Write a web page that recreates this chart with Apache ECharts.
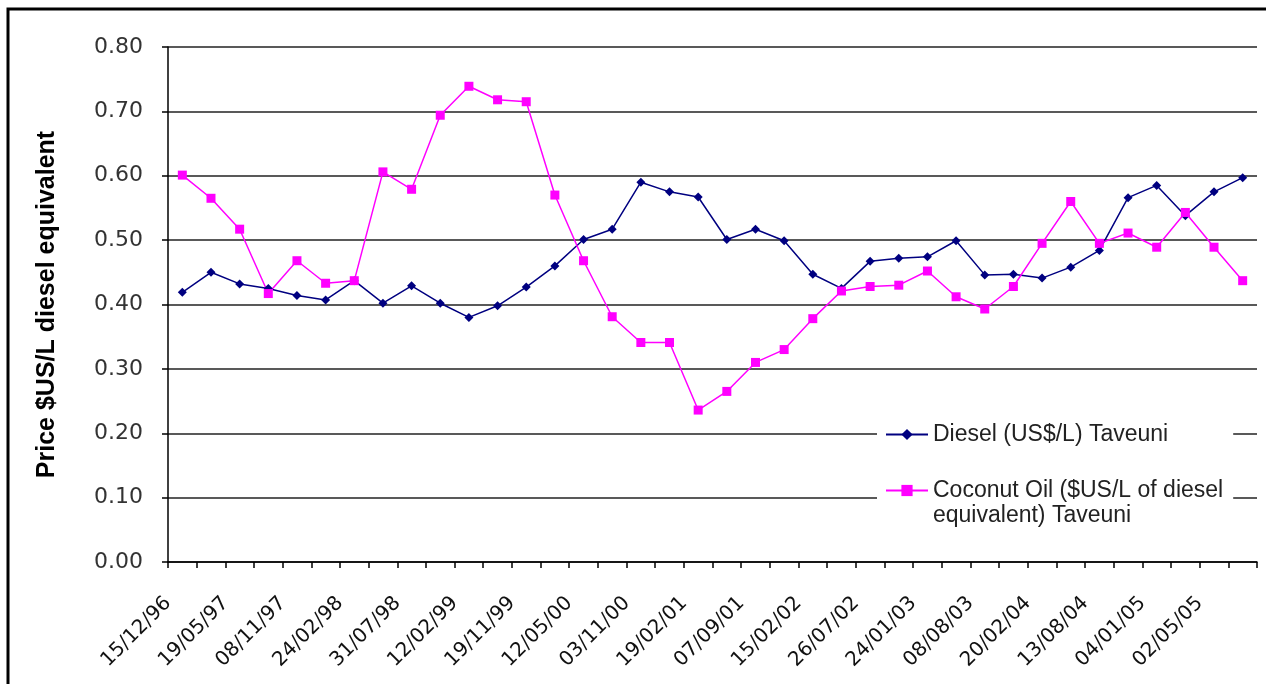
<!DOCTYPE html>
<html><head><meta charset="utf-8">
<script src="https://cdn.jsdelivr.net/npm/echarts@6/dist/echarts.min.js"></script>
<style>html,body{margin:0;padding:0;background:#fff}#c{width:1266px;height:684px}</style>
</head><body><div id="c"></div>
<script>
// Dates shown on the axis (every other observation is labelled)
const shownDates = ['15/12/96','19/05/97','08/11/97','24/02/98','31/07/98','12/02/99','19/11/99','12/05/00',
  '03/11/00','19/02/01','07/09/01','15/02/02','26/07/02','24/01/03','08/08/03','20/02/04','13/08/04','04/01/05','02/05/05'];
const categories = [];
shownDates.forEach(d => { categories.push(d); categories.push(''); });

const dieselName = 'Diesel (US$/L) Taveuni';
const coconutName = 'Coconut Oil ($US/L of diesel equivalent) Taveuni';

const diesel = [0.419,0.450,0.432,0.425,0.414,0.407,0.437,0.402,0.429,0.402,0.380,0.398,0.427,0.460,0.501,0.517,
  0.590,0.575,0.567,0.501,0.517,0.499,0.447,0.425,0.467,0.472,0.474,0.499,0.446,0.447,0.441,0.458,0.484,0.566,
  0.585,0.538,0.575,0.597];
const coconut = [0.601,0.565,0.517,0.417,0.468,0.433,0.437,0.606,0.579,0.694,0.739,0.718,0.715,0.570,0.468,0.381,
  0.341,0.341,0.236,0.265,0.310,0.330,0.378,0.421,0.428,0.430,0.452,0.412,0.393,0.428,0.495,0.560,0.495,0.511,
  0.489,0.543,0.489,0.437];

const yTicks = {min: 0, max: 0.8, interval: 0.1};

const chart = echarts.init(document.getElementById('c'), null, {renderer: 'canvas'});
chart.setOption({
  animation: false,
  backgroundColor: '#fff',
  grid: {left: 168, right: 9, top: 47, bottom: 122, containLabel: false},
  graphic: [{
    type: 'rect', shape: {x: 8, y: 9, width: 1400, height: 800},
    style: {fill: 'none', stroke: '#000', lineWidth: 3}, silent: true, z: 100
  }],
  legend: {
    orient: 'vertical', left: 877, top: 412,
    backgroundColor: '#fff', padding: [10, 10, 10, 8],
    itemWidth: 42, itemHeight: 14, itemGap: 6,
    data: [dieselName, coconutName],
    formatter: function (n) {
      return n === coconutName ? ' \nCoconut Oil ($US/L of diesel\nequivalent) Taveuni' : n;
    },
    textStyle: {fontFamily: 'Liberation Sans, Arial', fontSize: 23, color: '#222', lineHeight: 25}
  },
  xAxis: {
    type: 'category', data: categories, boundaryGap: true,
    axisLine: {lineStyle: {color: '#000', width: 1.5}},
    axisTick: {show: true, interval: 0, length: 6, lineStyle: {color: '#000', width: 1.5}},
    axisLabel: {interval: 0, rotate: 45, margin: 24, padding: [0, 20, 0, 0],
      fontFamily: 'DejaVu Sans', fontSize: 20, color: '#111'},
    splitLine: {show: false}
  },
  yAxis: {
    type: 'value', min: yTicks.min, max: yTicks.max, interval: yTicks.interval,
    name: 'Price $US/L diesel equivalent', nameLocation: 'middle', nameGap: 108,
    nameTextStyle: {fontFamily: 'Liberation Sans, Arial', fontWeight: 'bold', fontSize: 25, color: '#000'},
    axisLine: {show: true, lineStyle: {color: '#000', width: 1.5}},
    axisTick: {show: true, length: 6, lineStyle: {color: '#000', width: 1.5}},
    axisLabel: {margin: 25, fontFamily: 'DejaVu Sans', fontSize: 22, color: '#333',
      formatter: v => v.toFixed(2)},
    splitLine: {show: true, lineStyle: {color: '#222', width: 1.6}}
  },
  series: [
    {name: dieselName, type: 'line', data: diesel, symbol: 'diamond', symbolSize: 9,
      itemStyle: {color: '#000080'}, lineStyle: {color: '#000080', width: 1.5}},
    {name: coconutName, type: 'line', data: coconut, symbol: 'rect', symbolSize: 9,
      itemStyle: {color: '#FF00FF'}, lineStyle: {color: '#FF00FF', width: 1.5}}
  ]
});
</script></body></html>
